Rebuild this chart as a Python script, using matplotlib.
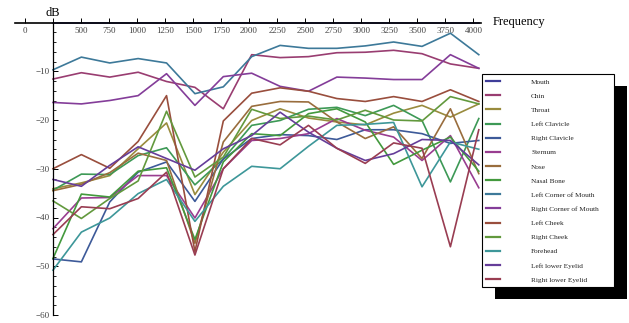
import matplotlib
matplotlib.use("Agg")
import matplotlib.pyplot as plt
from matplotlib.patches import Rectangle

plt.rcParams['font.family'] = ['Liberation Serif', 'DejaVu Serif']

freqs = [253, 506, 759, 1012, 1265, 1518, 1771, 2024, 2277, 2530, 2783, 3036, 3289, 3542, 3795, 4048]

mouth = [0, 0, 0, 0, 0, 0, 0, 0, 0, 0, 0, 0, 0, 0, 0, 0]
chin = [-11.6, -10.3, -11.2, -10.2, -12.1, -13.3, -17.7, -6.6, -7.2, -7.0, -6.2, -6.1, -5.7, -6.4, -8.5, -9.4]
throat = [-34.1, -32.9, -31.4, -25.9, -20.6, -35.3, -26.6, -20.1, -17.7, -19.6, -20.4, -21.0, -18.6, -17.0, -19.4, -16.7]
left_clavicle = [-34.4, -31.1, -31.2, -27.3, -25.7, -33.3, -28.0, -21.1, -20.1, -17.8, -17.4, -19.1, -17.0, -20.1, -32.7, -19.7]
right_clavicle = [-48.5, -49.1, -36.8, -30.7, -28.6, -36.7, -28.0, -23.8, -23.0, -23.2, -24.0, -22.0, -22.0, -22.8, -24.8, -24.2]
sternum = [-42.3, -36.0, -35.9, -31.4, -31.4, -40.1, -30.0, -24.2, -23.8, -22.8, -19.7, -22.1, -23.5, -28.3, -23.2, -33.9]
nose = [-34.5, -33.2, -30.8, -26.8, -28.3, -45.3, -24.5, -17.2, -16.2, -16.3, -20.4, -23.8, -21.4, -27.9, -17.7, -31.0]
nasal_bone = [-48.4, -35.2, -35.8, -30.5, -29.8, -44.5, -28.6, -22.8, -23.2, -18.7, -17.7, -20.4, -29.1, -26.2, -23.5, -30.5]
left_corner_mouth = [-9.7, -7.1, -8.3, -7.4, -8.3, -14.6, -13.2, -7.0, -4.7, -5.3, -5.3, -4.8, -4.0, -4.9, -2.2, -6.6]
right_corner_mouth = [-16.4, -16.7, -16.0, -15.0, -10.5, -17.0, -11.1, -10.4, -13.1, -14.1, -11.2, -11.4, -11.7, -11.7, -6.6, -9.4]
left_cheek = [-30.0, -27.1, -29.9, -24.4, -15.0, -47.0, -20.2, -14.5, -13.4, -14.1, -15.6, -16.2, -15.2, -16.2, -13.8, -16.2]
right_cheek = [-36.6, -40.2, -36.1, -32.5, -18.2, -31.7, -27.6, -17.8, -19.7, -19.2, -20.0, -18.0, -20.0, -20.2, -15.2, -16.7]
forehead = [-50.8, -43.0, -40.1, -35.1, -32.2, -40.8, -33.6, -29.5, -30.0, -25.4, -21.1, -20.9, -20.5, -33.7, -24.5, -26.0]
left_lower_eyelid = [-32.2, -33.6, -29.3, -25.5, -27.9, -30.3, -25.9, -23.2, -18.4, -22.5, -25.8, -28.3, -26.9, -24.0, -24.2, -29.2]
right_lower_eyelid = [-43.5, -37.8, -38.2, -36.1, -30.7, -47.7, -30.0, -23.8, -25.1, -21.1, -25.8, -28.9, -24.7, -25.8, -46.0, -22.0]

labels = ["Mouth", "Chin", "Throat", "Left Clavicle", "Right Clavicle", "Sternum", "Nose",
          "Nasal Bone", "Left Corner of Mouth", "Right Corner of Mouth", "Left Cheek",
          "Right Cheek", "Forehead", "Left lower Eyelid", "Right lower Eyelid"]
series = [mouth, chin, throat, left_clavicle, right_clavicle, sternum, nose, nasal_bone,
          left_corner_mouth, right_corner_mouth, left_cheek, right_cheek, forehead,
          left_lower_eyelid, right_lower_eyelid]
colors = [(0.2472, 0.24, 0.6), (0.6, 0.24, 0.4429), (0.6, 0.547, 0.24), (0.24, 0.6, 0.3369),
          (0.24, 0.3532, 0.6), (0.6, 0.24, 0.5633), (0.6, 0.4266, 0.24), (0.2635, 0.6, 0.24),
          (0.24, 0.4735, 0.6), (0.5164, 0.24, 0.6), (0.6, 0.3064, 0.24), (0.3836, 0.6, 0.24),
          (0.24, 0.5938, 0.6), (0.3968, 0.24, 0.6), (0.6, 0.24, 0.32)]

x_ticks = [0, 250, 500, 750, 1000, 1250, 1500, 1750, 2000, 2250, 2500, 2750, 3000, 3250, 3500, 3750, 4000]
x_ticklabels = ["0", "", "500", "750", "1000", "1250", "1500", "1750", "2000", "2250", "2500",
                "2750", "3000", "3250", "3500", "3750", "4000"]
y_ticks = [-60, -50, -40, -30, -20, -10]
y_ticklabels = ["\u221260", "\u221250", "\u221240", "\u221230", "\u221220", "\u221210"]

W, H = 629, 323
fig = plt.figure(figsize=(W / 100, H / 100), dpi=100)
ax = fig.add_axes([15 / W, 1 - 315 / H, (481 - 15) / W, (315 - 22.5) / H])
ax.patch.set_visible(False)
ax.set_xlim(-85.6, 4067.7)
ax.set_ylim(-60, 0)

for i, (vals, lab, col) in enumerate(zip(series, labels, colors)):
    ax.plot(freqs, vals, color=col, lw=1.2, label=lab, clip_on=False,
            zorder=1.5 if i == 0 else 2)

for s in ['top', 'right']:
    ax.spines[s].set_visible(False)
ax.spines['bottom'].set_position(('data', 0))
ax.spines['left'].set_position(('data', freqs[0]))
ax.spines['bottom'].set_linewidth(1.2)
ax.spines['left'].set_linewidth(0.9)
ax.spines['bottom'].set_zorder(3)

ax.set_xticks(x_ticks)
ax.set_xticklabels(x_ticklabels)
ax.set_yticks(y_ticks)
ax.set_yticklabels(y_ticklabels)
ax.set_yticks([v for v in range(-58, 0, 2) if v % 10 != 0], minor=True)
ax.tick_params(axis='x', direction='in', length=3.5, width=0.7, pad=3.5,
               labelsize=6.5, labelcolor='#444444')
ax.tick_params(axis='y', which='major', direction='in', length=3.5, width=0.7, pad=2.5,
               labelsize=6.5, labelcolor='#444444')
ax.tick_params(axis='y', which='minor', direction='in', length=2.0, width=0.6)

fig.text(52.5 / W, 1 - 13 / H, "dB", ha='center', va='center', fontsize=9)
fig.text(493 / W, 1 - 22 / H, "Frequency", ha='left', va='center', fontsize=9)

leg = ax.legend(loc='upper left', bbox_to_anchor=(481.7 / W, 1 - 77.5 / H, (614 - 481.7) / W, 0.01),
                bbox_transform=fig.transFigure, mode='expand', borderaxespad=0,
                fontsize=5.2, frameon=True, fancybox=False, edgecolor='black', framealpha=1,
                handlelength=1.95, handletextpad=4.3, labelspacing=1.12, borderpad=0.6)
leg.get_frame().set_linewidth(0.8)
for h in leg.get_lines():
    h.set_linewidth(1.6)
for t in leg.get_texts():
    t.set_color('#222222')

fig.canvas.draw()
bb = leg.get_frame().get_window_extent()
inv = fig.transFigure.inverted()
(x0, y0) = inv.transform((bb.x0 + 13, bb.y0 - 12))
(x1, y1) = inv.transform((bb.x1 + 13, bb.y1 - 12))
fig.add_artist(Rectangle((x0, y0), x1 - x0, y1 - y0, transform=fig.transFigure,
                         facecolor='black', edgecolor='none', zorder=-1))

fig.savefig('out.png', dpi=100)
